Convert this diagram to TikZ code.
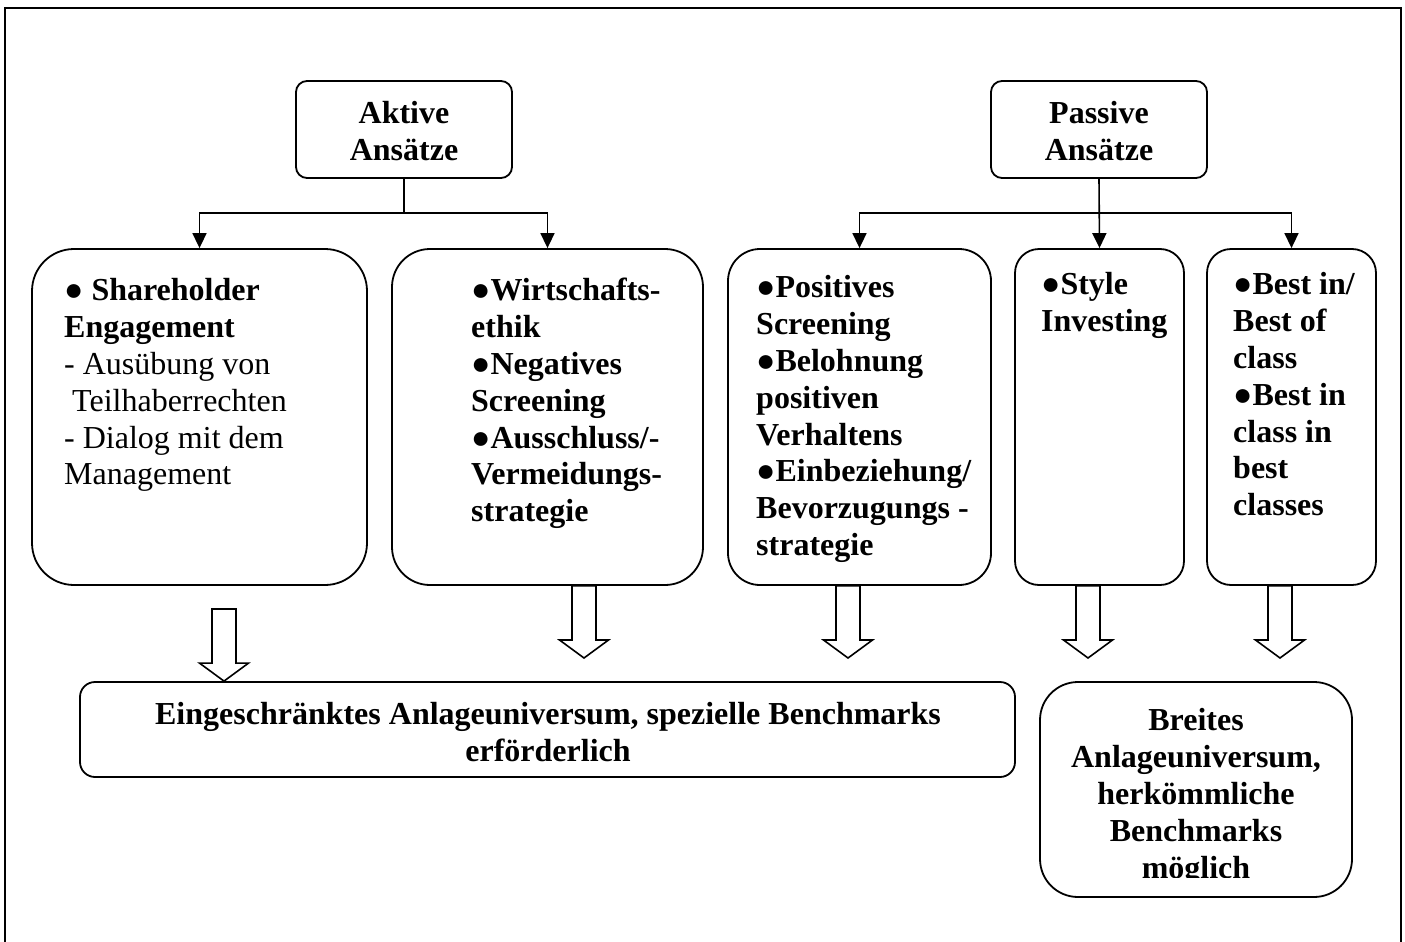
\documentclass[tikz,border=0pt]{standalone}
\usepackage{fontspec}
\setmainfont{Liberation Serif}
\usetikzlibrary{arrows.meta,calc}

% hollow block arrow: #1 = top of the shaft, #2 = tip
\newcommand\hollowarrow[2]{%
  \draw[blockarr] let \p1=(#1), \p2=(#2) in
    (\x2-12pt,\y1) -- (\x2-12pt,\y2+18pt) -- (\x2-24.5pt,\y2+18pt) --
    (\x2,\y2) -- (\x2+24.5pt,\y2+18pt) -- (\x2+12pt,\y2+18pt) --
    (\x2+12pt,\y1) -- cycle;}

\begin{document}
\begin{tikzpicture}[x=1pt,y=-1pt,
  box/.style={draw,line width=1.8pt,rounded corners=#1,inner sep=0pt},
  txt/.style={inner sep=0pt,font=\fontsize{32}{36.8}\selectfont\bfseries},
  conn/.style={line width=1.6pt},
  tip/.style={-{Triangle[length=15pt,width=14pt]}},
  blockarr/.style={line width=1.6pt,line join=miter,fill=white}]
\useasboundingbox (0,0) rectangle (1405,942);
\draw[line width=2pt] (5,8) rectangle (1401,980);

% top level boxes
\node[box=11pt,minimum width=216pt,minimum height=97pt] (ak) at (404,129.5) {};
\node[box=11pt,minimum width=216pt,minimum height=97pt] (pa) at (1099,129.5) {};
\node[txt,align=center,anchor=north] (akt) at (404,98) {\strut Aktive\\Ansätze};
\node[txt,align=center,anchor=north] (pat) at (1099,98) {\strut Passive\\Ansätze};

% approach boxes
\node[box=42pt,minimum width=335pt,minimum height=336pt] (b1) at (199.5,417) {};
\node[box=38pt,minimum width=311pt,minimum height=336pt] (b2) at (547.5,417) {};
\node[box=32pt,minimum width=263pt,minimum height=336pt] (b3) at (859.5,417) {};
\node[box=24pt,minimum width=169pt,minimum height=336pt] (b4) at (1099.5,417) {};
\node[box=24pt,minimum width=169pt,minimum height=336pt] (b5) at (1291.5,417) {};

\node[txt,align=left,anchor=north west] (t1) at (64,275)
  {\strut● Shareholder\\Engagement\\\mdseries- Ausübung von\\\mdseries\hspace{8pt}Teilhaberrechten\\\mdseries- Dialog mit dem\\\mdseries Management};
\node[txt,align=left,anchor=north west] (t2) at (471,275)
  {\strut●Wirtschafts-\\ethik\\●Negatives\\Screening\\●Ausschluss/-\\Vermeidungs-\\strategie};
\node[txt,align=left,anchor=north west] (t3) at (756,272)
  {\strut●Positives\\Screening\\●Belohnung\\positiven\\Verhaltens\\●Einbeziehung/\\Bevorzugungs -\\strategie};
\node[txt,align=left,anchor=north west] (t4) at (1041,269)
  {\strut●Style\\Investing};
\node[txt,align=left,anchor=north west] (t5) at (1233,269)
  {\strut●Best in/\\Best of\\class\\●Best in\\class in\\best\\classes};

% result boxes
\node[box=15pt,minimum width=935pt,minimum height=95pt] (eb) at (547.5,729.5) {};
\node[box=38pt,minimum width=312pt,minimum height=215pt] (bb) at (1196,789.5) {};
\node[txt,align=center,anchor=north] (ebt) at (548,699)
  {\strut Eingeschränktes Anlageuniversum, spezielle Benchmarks\\erförderlich};
\begin{scope}
  \clip (1040,682) rectangle (1352,877);
  \node[txt,align=center,anchor=north] (bbt) at (1196,705)
    {\strut Breites\\Anlageuniversum,\\herkömmliche\\Benchmarks\\möglich};
\end{scope}

% tree connectors
\draw[conn] (ak.south) -- (ak.south |- 0,213);
\draw[conn,tip] (ak.south |- 0,213) -| (b1.north);
\draw[conn,tip] (ak.south |- 0,213) -| (b2.north);
\draw[conn,tip] (pa.south) -- (b4.north);
\draw[conn,tip] (pa.south |- 0,213) -| (b3.north);
\draw[conn,tip] (pa.south |- 0,213) -| (b5.north);

% block arrows into the result boxes
\coordinate (s1) at (224,609);
\coordinate (e2) at (584,658);
\coordinate (e3) at (848,658);
\coordinate (e4) at (1088,658);
\coordinate (e5) at (1280,658);
\hollowarrow{s1}{s1 |- eb.north}
\hollowarrow{e2 |- b2.south}{e2}
\hollowarrow{e3 |- b3.south}{e3}
\hollowarrow{e4 |- b4.south}{e4}
\hollowarrow{e5 |- b5.south}{e5}
\end{tikzpicture}
\end{document}
